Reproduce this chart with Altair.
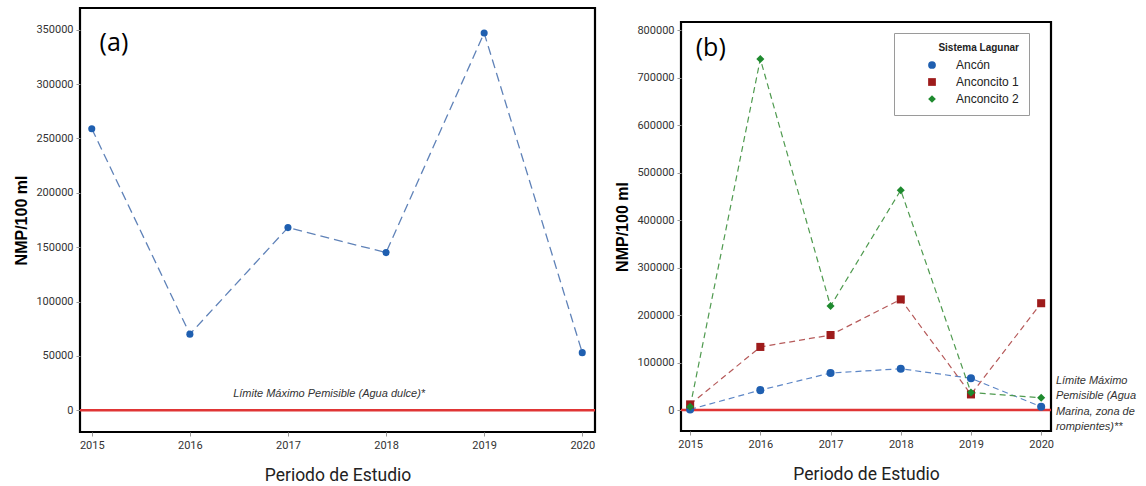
import altair as alt
import pandas as pd

years = [2015, 2016, 2017, 2018, 2019, 2020]

# Panel (a): single series
a_values = [259000, 70000, 168000, 145000, 347000, 53000]

# Panel (b): three lagoon systems
series_names = ["Ancón", "Anconcito 1", "Anconcito 2"]
b_ancon = [1500, 42000, 78000, 87000, 67000, 7000]
b_anconcito1 = [12000, 133000, 158000, 233000, 33000, 225000]
b_anconcito2 = [7000, 739000, 219000, 463000, 37000, 26000]
series_colors = ["#1f5fb0", "#9e1b1b", "#1e8a2e"]
line_colors = ["#5d86c6", "#b65a5a", "#4f9a4f"]
series_shapes = ["circle", "square", "diamond"]

a_ticks = [0, 50000, 100000, 150000, 200000, 250000, 300000, 350000]
b_ticks = [0, 100000, 200000, 300000, 400000, 500000, 600000, 700000, 800000]

note_a = "Límite Máximo Pemisible (Agua dulce)*"
note_b = ["Límite Máximo", "Pemisible (Agua", "Marina, zona de", "rompientes)**"]

LABEL_FONT = "Roboto, Liberation Sans, sans-serif"

# ---------- Panel (a) ----------
df_a = pd.DataFrame({"year": years, "value": a_values})

xa = alt.X("year:Q",
           scale=alt.Scale(domain=[2014.88, 2020.13], nice=False, zero=False),
           axis=alt.Axis(values=years, format="d", title="Periodo de Estudio"))
ya = alt.Y("value:Q",
           scale=alt.Scale(domain=[-20000, 370000], nice=False, zero=False),
           axis=alt.Axis(values=a_ticks, format="d", title="NMP/100 ml"))

base_a = alt.Chart(df_a)
line_a = base_a.mark_line(color="#5f82b8", strokeWidth=1.3, strokeDash=[9, 5]).encode(x=xa, y=ya)
pts_a = base_a.mark_point(filled=True, shape="circle", size=50, color="#1f5fb0", opacity=1).encode(x="year:Q", y="value:Q")
rule_a = alt.Chart(pd.DataFrame({"value": [0]})).mark_rule(color="#e03535", strokeWidth=2.5).encode(y="value:Q")
txt_a = alt.Chart(pd.DataFrame({"year": [2017.42], "value": [14500], "label": [note_a]})).mark_text(
    fontStyle="italic", fontSize=11, color="#333", font="Liberation Sans", align="center", baseline="middle"
).encode(x="year:Q", y="value:Q", text="label:N")
tag_a = alt.Chart(pd.DataFrame({"year": [2015.08], "value": [338000], "label": ["(a)"]})).mark_text(
    fontSize=25, color="black", font="Open Sans", align="left", baseline="middle"
).encode(x="year:Q", y="value:Q", text="label:N")

panel_a = alt.layer(rule_a, line_a, pts_a, txt_a, tag_a).properties(width=515, height=424)

# ---------- Panel (b) ----------
rows = []
for name, vals in zip(series_names, [b_ancon, b_anconcito1, b_anconcito2]):
    for y, v in zip(years, vals):
        rows.append({"year": y, "value": v, "serie": name})
df_b = pd.DataFrame(rows)

xb = alt.X("year:Q",
           scale=alt.Scale(domain=[2014.87, 2020.14], nice=False, zero=False),
           axis=alt.Axis(values=years, format="d", title="Periodo de Estudio"))
yb = alt.Y("value:Q",
           scale=alt.Scale(domain=[-44000, 817000], nice=False, zero=False),
           axis=alt.Axis(values=b_ticks, format="d", title="NMP/100 ml"))

legend_b = alt.Legend(title="Sistema Lagunar", orient="none", legendX=814, legendY=25,
                      strokeColor="#9a9a9a", fillColor="white", padding=10,
                      titleFontSize=10, titleFontWeight="bold", titleFont="Liberation Sans",
                      titleColor="#222", titleAnchor="end", titleAlign="right",
                      labelFont="Liberation Sans", labelFontSize=12,
                      labelColor="#222", symbolSize=60, rowPadding=5, titlePadding=6,
                      symbolOffset=22, labelOffset=18)

base_b = alt.Chart(df_b)
lines_b = [
    base_b.transform_filter(alt.datum.serie == name).mark_line(
        strokeWidth=1.2, strokeDash=[6, 4], color=lc).encode(x=xb, y=yb)
    for name, lc in zip(series_names, line_colors)
]
pts_b = base_b.mark_point(filled=True, size=65, opacity=1).encode(
    x="year:Q", y="value:Q",
    color=alt.Color("serie:N", scale=alt.Scale(domain=series_names, range=series_colors), legend=legend_b),
    shape=alt.Shape("serie:N", scale=alt.Scale(domain=series_names, range=series_shapes), legend=legend_b))
rule_b = alt.Chart(pd.DataFrame({"value": [0]})).mark_rule(color="#e03535", strokeWidth=2.5).encode(y="value:Q")
txt_b = alt.Chart(pd.DataFrame({"year": [2020.21], "value": [74000], "label": [note_b]})).mark_text(
    fontStyle="italic", fontSize=11, color="#333", font="Liberation Sans", align="left", baseline="top",
    lineHeight=15.5
).encode(x="year:Q", y="value:Q", text="label:N")
tag_b = alt.Chart(pd.DataFrame({"year": [2015.08], "value": [762000], "label": ["(b)"]})).mark_text(
    fontSize=25, color="black", font="Open Sans", align="left", baseline="middle"
).encode(x="year:Q", y="value:Q", text="label:N")

panel_b = alt.layer(rule_b, *lines_b, pts_b, txt_b, tag_b).properties(width=370, height=409)

spacer = alt.Chart(pd.DataFrame({"v": [0]})).mark_point(opacity=0).encode(
    x=alt.value(0), y=alt.value(0)
).properties(width=370, height=12, view=alt.ViewBackground(strokeOpacity=0))

column_b = alt.vconcat(spacer, panel_b, spacing=0)

chart = alt.hconcat(panel_a, column_b, spacing=15).properties(
    padding={"left": 12, "top": 5, "right": 0, "bottom": 0}
).configure_view(
    stroke="black", strokeWidth=2.2
).configure_axis(
    grid=False, domain=False, tickColor="#999", tickSize=4, tickWidth=1,
    labelFont=LABEL_FONT, labelFontSize=11, labelColor="#333", labelPadding=3,
    titleFont=LABEL_FONT, titleColor="#222"
).configure_axisX(
    titleFontSize=17.5, titleFontWeight="normal", titlePadding=16
).configure_axisY(
    titleFontSize=16, titleFontWeight="bold", titleColor="black", titlePadding=6,
    titleFont="Liberation Sans"
)

chart.save("out.html", embed_options={"renderer": "svg", "actions": False})
